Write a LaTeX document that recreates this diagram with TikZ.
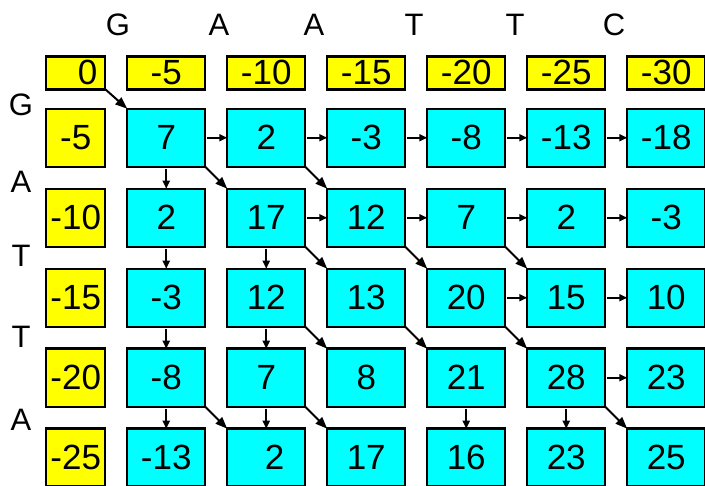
\documentclass[tikz,border=0pt]{standalone}
\usepackage{fontspec}
\setmainfont{Liberation Sans}
\usetikzlibrary{arrows.meta, matrix}
\definecolor{ccyan}{HTML}{00FFFF}
\definecolor{cyellow}{HTML}{FFFF00}
\newcommand\cellfont{\fontsize{35}{40}\selectfont}
\newcommand\seqfont{\fontsize{31}{36}\selectfont}
\tikzset{
  cell/.style={draw=black, line width=2.5pt, fill=ccyan, minimum width=78pt, minimum height=58pt, inner sep=2pt, anchor=center, font=\cellfont},
  gapcell/.style={fill=cyellow},
  seqletter/.style={font=\seqfont, inner sep=0pt},
  harrow/.style={-{Triangle[length=8pt, width=7pt]}, line width=1.8pt, shorten <=2pt},
  darrow/.style={-{Triangle[length=12pt, width=9pt]}, line width=2pt},
}

\begin{document}
\begin{tikzpicture}[x=1pt, y=-1pt]
  \useasboundingbox (0,0) rectangle (705,486);
  \matrix (m) [matrix of nodes, anchor=north west, inner sep=0pt, outer sep=0pt,
    column sep=19.5pt, row sep=19.5pt, nodes={cell},
    row 1/.style={nodes={gapcell, minimum height=33pt}},
    column 1/.style={nodes={gapcell, minimum width=59pt}}] at (45,55)
  {
    |[text width=43pt, align=right]| 0 & -5 & -10 & -15 & -20 & -25 & -30 \\[-2.5pt]
    -5  & 7   & 2  & -3 & -8 & -13 & -18 \\
    -10 & 2   & 17 & 12 & 7  & 2   & -3  \\
    -15 & -3  & 12 & 13 & 20 & 15  & 10  \\
    -20 & -8  & 7  & 8  & 21 & 28  & 23  \\
    -25 & -13 & |[text width=36pt, align=right]| 2 & 17 & 16 & 23 & 25 \\
  };
  % sequences
  \foreach \ch/\x [count=\k] in {G/118,A/219,A/314,T/414,T/515,C/614}
    \node[seqletter] (top\k) at (\x,25) {\ch};
  \foreach \ch/\y [count=\k] in {G/105,A/182,T/256,T/337,A/420}
    \node[seqletter] (side\k) at (21,\y) {\ch};
  % left moves
  \foreach \r/\c [evaluate=\c as \n using int(\c+1)] in {2/2,2/3,2/4,2/5,2/6,3/3,3/4,3/5,3/6,4/5,4/6,5/6}
    \draw[harrow] (m-\r-\c.east) -- (m-\r-\n.west);
  % up moves
  \foreach \r/\c [evaluate=\r as \n using int(\r+1)] in {2/2,3/2,3/3,4/2,4/3,5/2,5/3,5/5,5/6}
    \draw[harrow] (m-\r-\c.south) -- (m-\n-\c.north);
  % diagonal moves
  \foreach \r/\c [evaluate=\r as \rn using int(\r+1), evaluate=\c as \cn using int(\c+1)] in {1/1,2/2,2/3,3/3,3/4,3/5,4/3,4/4,4/5,5/2,5/3,5/6}
    \draw[darrow] (m-\r-\c.south east) -- (m-\rn-\cn.north west);
\end{tikzpicture}
\end{document}
